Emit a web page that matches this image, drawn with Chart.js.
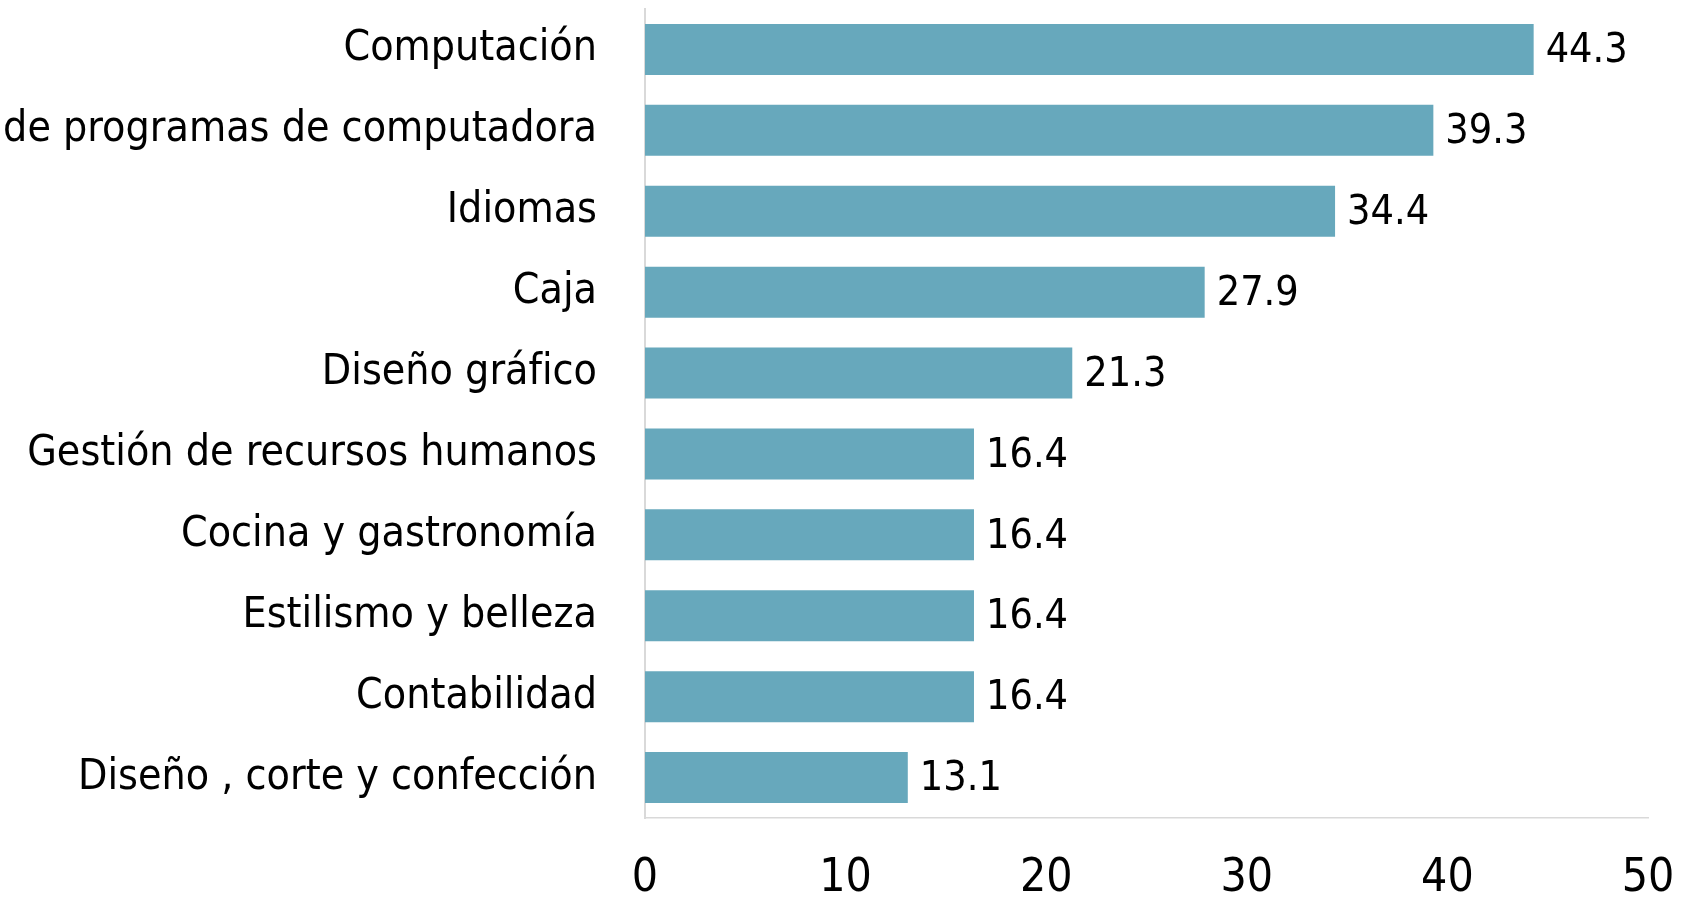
<!DOCTYPE html>
<html lang="es">
<head>
<meta charset="utf-8">
<title>Cursos</title>
<script src="https://cdn.jsdelivr.net/npm/chart.js@4/dist/chart.umd.min.js"></script>
<style>
	html, body { margin: 0; padding: 0; background: #fff; }
	#chart { display: block; }
</style>
</head>
<body>
<canvas id="chart" width="1683" height="898"></canvas>
<script>
const categories = [
	"Computación",
	"de programas de computadora",
	"Idiomas",
	"Caja",
	"Diseño gráfico",
	"Gestión de recursos humanos",
	"Cocina y gastronomía",
	"Estilismo y belleza",
	"Contabilidad",
	"Diseño , corte y confección",
];
const percentages = [44.3, 39.3, 34.4, 27.9, 21.3, 16.4, 16.4, 16.4, 16.4, 13.1];
const xTicks = [0, 10, 20, 30, 40, 50];

const fontFamily = "'DejaVu Sans Condensed', 'Liberation Sans Narrow', sans-serif";
const barColor = "rgb(103, 168, 188)";
const axisColor = "#d9d9d9";

// draws the number at the end of each bar
const valueLabels = {
	id: "valueLabels",
	afterDatasetsDraw(chart) {
		const ctx = chart.ctx;
		const meta = chart.getDatasetMeta(0);
		ctx.save();
		ctx.font = "41px " + fontFamily;
		ctx.fillStyle = "#000";
		ctx.textAlign = "left";
		ctx.textBaseline = "middle";
		meta.data.forEach((bar, i) => {
			ctx.fillText(percentages[i].toFixed(1), bar.x + 12, bar.y + 2);
		});
		ctx.restore();
	},
};

new Chart(document.getElementById("chart"), {
	type: "bar",
	data: {
		labels: categories,
		datasets: [
			{
				data: percentages,
				backgroundColor: barColor,
				barPercentage: 0.63,
				categoryPercentage: 1,
			},
		],
	},
	options: {
		indexAxis: "y",
		responsive: false,
		animation: false,
		devicePixelRatio: 1,
		layout: {
			padding: { top: 9, right: 35, bottom: 0, left: 0 },
		},
		plugins: {
			legend: { display: false },
			tooltip: { enabled: false },
		},
		scales: {
			x: {
				min: 0,
				max: 50,
				afterBuildTicks(scale) {
					scale.ticks = xTicks.map((v) => ({ value: v }));
				},
				afterFit(scale) {
					scale.height = 80;
					scale.paddingLeft = 0;
					scale.paddingRight = 0;
				},
				grid: { display: false, drawTicks: false },
				border: { display: true, color: axisColor, width: 1.5 },
				ticks: {
					padding: 33,
					color: "#000",
					maxRotation: 0,
					font: { family: fontFamily, size: 46 },
				},
			},
			y: {
				afterFit(scale) {
					scale.width = 645;
					scale.paddingTop = 0;
					scale.paddingBottom = 0;
				},
				grid: { display: false, drawTicks: false },
				border: { display: true, color: axisColor, width: 2 },
				ticks: {
					padding: 48,
					color: "#000",
					autoSkip: false,
					font: { family: fontFamily, size: 42.5 },
				},
			},
		},
	},
	plugins: [valueLabels],
});
</script>
</body>
</html>
